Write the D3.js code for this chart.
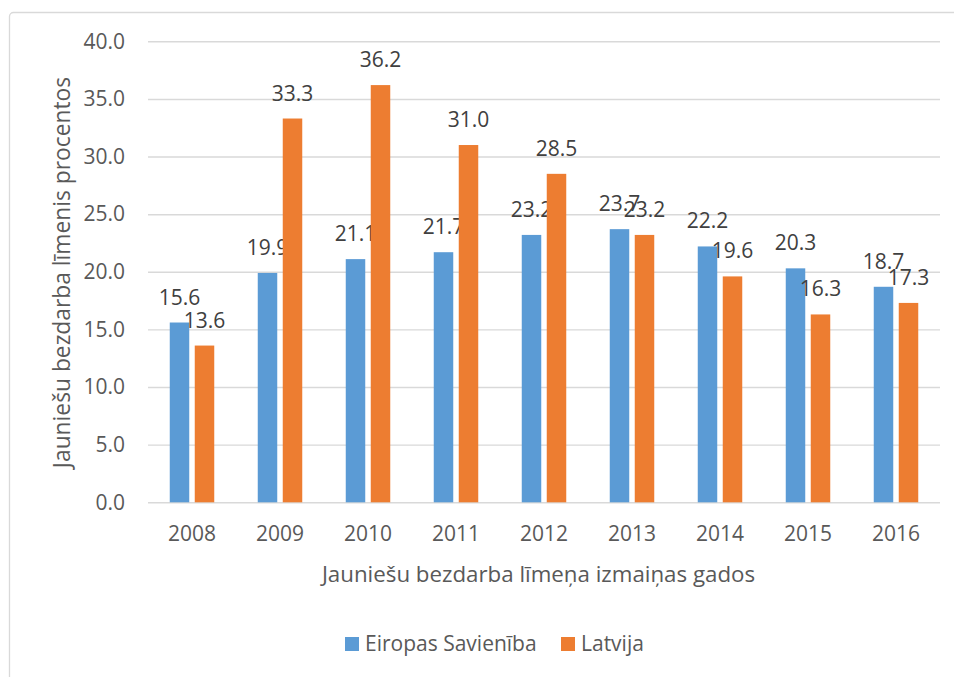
<!DOCTYPE html>
<html>
<head>
<meta charset="utf-8">
<script src="https://cdn.jsdelivr.net/npm/d3@7"></script>
<style>
  html, body { margin: 0; padding: 0; background: #fff; }
  svg { display: block; font-family: "Open Sans", sans-serif; }
</style>
</head>
<body>
<svg id="chart" width="954" height="677"></svg>
<script>
const years = ["2008","2009","2010","2011","2012","2013","2014","2015","2016"];
const euValues = [15.6, 19.9, 21.1, 21.7, 23.2, 23.7, 22.2, 20.3, 18.7];
const lvValues = [13.6, 33.3, 36.2, 31.0, 28.5, 23.2, 19.6, 16.3, 17.3];
const seriesNames = ["Eiropas Savienība", "Latvija"];
const yTicks = [0, 5, 10, 15, 20, 25, 30, 35, 40];
const yTitle = "Jauniešu bezdarba līmenis procentos";
const xTitle = "Jauniešu bezdarba līmeņa izmaiņas gados";

(function () {
const colors = ["#5B9BD5", "#ED7D31"];
const svg = d3.select("#chart");

// outer chart border
svg.append("rect")
  .attr("x", 9.5).attr("y", 12.5)
  .attr("width", 980).attr("height", 700)
  .attr("rx", 4)
  .attr("fill", "none")
  .attr("stroke", "#D9D9D9")
  .attr("stroke-width", 1.3);

const pL = 148, pR = 940, pT = 41.3, pB = 502.3;

const x = d3.scaleBand().domain(years).range([pL, pR]);
const y = d3.scaleLinear().domain([0, 40]).range([pB, pT]);

// gridlines
const grid = svg.append("g").attr("transform", `translate(${pL},0)`)
  .call(d3.axisLeft(y).tickValues(yTicks).tickSize(-(pR - pL)).tickFormat(""));
grid.select(".domain").remove();
grid.selectAll(".tick line").attr("stroke", "#D9D9D9").attr("stroke-width", 1.4);

// y axis labels
const yAxis = svg.append("g").attr("transform", `translate(${pL},0)`)
  .call(d3.axisLeft(y).tickValues(yTicks).tickSize(0).tickPadding(23).tickFormat(d => d.toFixed(1)));
yAxis.select(".domain").remove();
yAxis.selectAll("text").attr("font-size", 21).attr("fill", "#595959").attr("font-family", "Open Sans");

// x axis labels
const xAxis = svg.append("g").attr("transform", `translate(0,${pB})`)
  .call(d3.axisBottom(x).tickSize(0).tickPadding(24));
xAxis.select(".domain").remove();
xAxis.selectAll("text").attr("font-size", 21).attr("fill", "#595959").attr("font-family", "Open Sans");

// bars
const barW = 19.5, gap = 5.5;
const series = [euValues, lvValues];
series.forEach((vals, si) => {
  const g = svg.append("g");
  const offset = si === 0 ? -(gap / 2 + barW) : gap / 2;
  g.selectAll("rect").data(vals).join("rect")
    .attr("x", (d, i) => x(years[i]) + x.bandwidth() / 2 + offset)
    .attr("y", d => y(d))
    .attr("width", barW)
    .attr("height", d => y(0) - y(d))
    .attr("fill", colors[si]);
  g.selectAll("text").data(vals).join("text")
    .attr("x", (d, i) => x(years[i]) + x.bandwidth() / 2 + offset + barW / 2)
    .attr("y", d => y(d) - 18)
    .attr("text-anchor", "middle")
    .attr("font-size", 21)
    .attr("fill", "#404040")
    .text(d => d.toFixed(1));
});

// axis titles
svg.append("text")
  .attr("transform", `translate(69.5,${272.5}) rotate(-90)`)
  .attr("text-anchor", "middle")
  .attr("font-size", 22.8)
  .attr("fill", "#595959")
  .text(yTitle);

svg.append("text")
  .attr("x", 538.5)
  .attr("y", 581.5)
  .attr("text-anchor", "middle")
  .attr("font-size", 22.3)
  .attr("fill", "#595959")
  .text(xTitle);

// legend
const legendItems = [{x: 345, name: seriesNames[0], c: colors[0]}, {x: 561, name: seriesNames[1], c: colors[1]}];
const lg = svg.append("g");
legendItems.forEach(it => {
  lg.append("rect").attr("x", it.x).attr("y", 637).attr("width", 14).attr("height", 14).attr("fill", it.c);
  lg.append("text").attr("x", it.x + 20).attr("y", 651).attr("font-size", 21).attr("fill", "#595959").text(it.name);
});
})();
</script>
</body>
</html>
